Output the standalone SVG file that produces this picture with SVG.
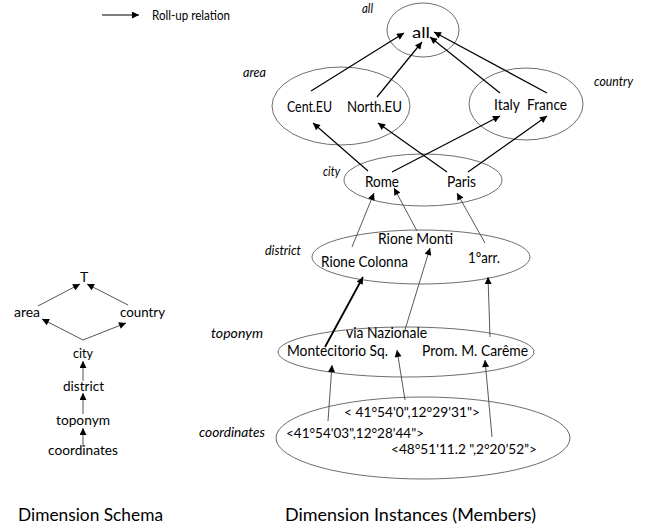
<svg xmlns="http://www.w3.org/2000/svg" width="657" height="529" viewBox="0 0 657 529">
<style>
.t{font-family:Lato,"Open Sans","Liberation Sans",sans-serif;font-size:15px;fill:#000}
.s{font-family:Lato,"Open Sans","Liberation Sans",sans-serif;font-size:14px;fill:#000}
.l{font-family:Lato,"Open Sans","Liberation Sans",sans-serif;font-size:12.5px;font-style:italic;fill:#000}
.b{font-family:Lato,"Open Sans","Liberation Sans",sans-serif;font-size:17px;fill:#000}
.e{fill:none;stroke:#6e6e6e;stroke-width:1}
.a{fill:none;stroke:#000;stroke-width:1.2;marker-end:url(#ah)}
.g{fill:none;stroke:#444;stroke-width:0.9;marker-end:url(#ah)}
.k{fill:none;stroke:#000;stroke-width:1.8;marker-end:url(#ah)}
.sc{fill:none;stroke:#555;stroke-width:1;marker-end:url(#ah)}
</style>
<defs>
<marker id="ah" viewBox="0 0 10 10" refX="10" refY="5" markerWidth="8" markerHeight="7" markerUnits="userSpaceOnUse" orient="auto"><path d="M0,0 L10,5 L0,10 z" fill="#000"/></marker>
</defs>
<rect width="657" height="529" fill="#fff"/>

<g id="legend">
<line class="a" x1="102" y1="15" x2="139" y2="15"/>
<text class="s" x="152" y="20" textLength="78" lengthAdjust="spacingAndGlyphs">Roll-up relation</text>
</g>

<g id="schema-T"><text class="s" x="80" y="282">T</text></g>
<g id="schema-area"><text class="s" x="14" y="317" textLength="26" lengthAdjust="spacingAndGlyphs">area</text></g>
<g id="schema-country"><text class="s" x="120" y="317" textLength="45" lengthAdjust="spacingAndGlyphs">country</text></g>
<g id="schema-city"><text class="s" x="73" y="358" textLength="20" lengthAdjust="spacingAndGlyphs">city</text></g>
<g id="schema-district"><text class="s" x="63" y="391" textLength="41" lengthAdjust="spacingAndGlyphs">district</text></g>
<g id="schema-toponym"><text class="s" x="56" y="425" textLength="54" lengthAdjust="spacingAndGlyphs">toponym</text></g>
<g id="schema-coordinates"><text class="s" x="48" y="455" textLength="70" lengthAdjust="spacingAndGlyphs">coordinates</text></g>

<g id="level-all">
<ellipse class="e" cx="423" cy="30" rx="36" ry="27"/>
<text class="l" x="362" y="13" textLength="11" lengthAdjust="spacingAndGlyphs">all</text>
<text class="t" x="412" y="38" textLength="18" lengthAdjust="spacingAndGlyphs">all</text>
</g>
<g id="level-area">
<ellipse class="e" cx="341" cy="106" rx="69" ry="39"/>
<text class="l" x="243" y="77" textLength="23" lengthAdjust="spacingAndGlyphs">area</text>
<text class="t" x="287" y="112" textLength="45" lengthAdjust="spacingAndGlyphs">Cent.EU</text>
<text class="t" x="347" y="112" textLength="55" lengthAdjust="spacingAndGlyphs">North.EU</text>
</g>
<g id="level-country">
<ellipse class="e" cx="526" cy="104" rx="57" ry="36"/>
<text class="l" x="594" y="86" textLength="39" lengthAdjust="spacingAndGlyphs">country</text>
<text class="t" x="494" y="110" textLength="26" lengthAdjust="spacingAndGlyphs">Italy</text>
<text class="t" x="527" y="110" textLength="40" lengthAdjust="spacingAndGlyphs">France</text>
</g>
<g id="level-city">
<ellipse class="e" cx="423" cy="180" rx="79" ry="26"/>
<text class="l" x="323" y="176" textLength="17" lengthAdjust="spacingAndGlyphs">city</text>
<text class="t" x="365" y="187" textLength="34" lengthAdjust="spacingAndGlyphs">Rome</text>
<text class="t" x="447" y="187" textLength="29" lengthAdjust="spacingAndGlyphs">Paris</text>
</g>
<g id="level-district">
<ellipse class="e" cx="421" cy="257" rx="109" ry="27"/>
<text class="l" x="265" y="255" textLength="36" lengthAdjust="spacingAndGlyphs">district</text>
<text class="t" x="378" y="244" textLength="75" lengthAdjust="spacingAndGlyphs">Rione Monti</text>
<text class="t" x="321" y="267" textLength="87" lengthAdjust="spacingAndGlyphs">Rione Colonna</text>
<text class="t" x="468" y="263" textLength="32" lengthAdjust="spacingAndGlyphs">1°arr.</text>
</g>
<g id="level-toponym">
<ellipse class="e" cx="406" cy="352" rx="128" ry="25"/>
<text class="l" x="211" y="338" textLength="52" lengthAdjust="spacingAndGlyphs">toponym</text>
<text class="t" x="346" y="338" textLength="81" lengthAdjust="spacingAndGlyphs">via Nazionale</text>
<text class="t" x="287" y="356" textLength="101" lengthAdjust="spacingAndGlyphs">Montecitorio Sq.</text>
<text class="t" x="422" y="356" textLength="106" lengthAdjust="spacingAndGlyphs">Prom. M. Carême</text>
</g>
<g id="level-coordinates">
<ellipse class="e" cx="423" cy="438" rx="147" ry="41"/>
<text class="l" x="199" y="437" textLength="66" lengthAdjust="spacingAndGlyphs">coordinates</text>
<text class="s" x="344" y="417" textLength="136" lengthAdjust="spacingAndGlyphs">&lt; 41°54'0",12°29'31"&gt;</text>
<text class="s" x="286" y="438" textLength="138" lengthAdjust="spacingAndGlyphs">&lt;41°54'03",12°28'44"&gt;</text>
<text class="s" x="391" y="454" textLength="146" lengthAdjust="spacingAndGlyphs">&lt;48°51'11.2 ",2°20’52”&gt;</text>
</g>

<g id="captions">
<text class="b" x="18" y="521" textLength="145" lengthAdjust="spacingAndGlyphs">Dimension Schema</text>
<text class="b" x="285" y="521" textLength="251" lengthAdjust="spacingAndGlyphs">Dimension Instances (Members)</text>
</g>

<g id="connectors">
<line class="sc" x1="38" y1="306" x2="80" y2="284"/>
<line class="sc" x1="128" y1="305" x2="87" y2="284"/>
<line class="sc" x1="83" y1="340" x2="42" y2="319"/>
<line class="sc" x1="83" y1="340" x2="126" y2="323"/>
<line class="sc" x1="83" y1="381" x2="83" y2="361"/>
<line class="sc" x1="83" y1="414" x2="83" y2="393"/>
<line class="sc" x1="83" y1="447" x2="83" y2="428"/>
<line class="a" x1="311" y1="91" x2="404" y2="33"/>
<line class="a" x1="377" y1="97" x2="422" y2="42"/>
<line class="a" x1="500" y1="93" x2="430" y2="37"/>
<line class="a" x1="547" y1="93" x2="434" y2="32"/>
<line class="a" x1="368" y1="171" x2="313" y2="123"/>
<line class="a" x1="447" y1="172" x2="378" y2="123"/>
<line class="a" x1="392" y1="172" x2="500" y2="116"/>
<line class="a" x1="468" y1="172" x2="547" y2="116"/>
<line class="g" x1="352" y1="247" x2="374" y2="193"/>
<line class="g" x1="417" y1="231" x2="394" y2="188"/>
<line class="g" x1="485" y1="243" x2="457" y2="193"/>
<line class="k" x1="325" y1="347" x2="363" y2="277"/>
<line class="g" x1="404" y1="333" x2="430" y2="248"/>
<line class="g" x1="490" y1="337" x2="488" y2="277"/>
<line class="g" x1="328" y1="421" x2="332" y2="365"/>
<line class="g" x1="405" y1="400" x2="397" y2="350"/>
<line class="g" x1="492" y1="437" x2="485" y2="360"/>
</g>
</svg>
